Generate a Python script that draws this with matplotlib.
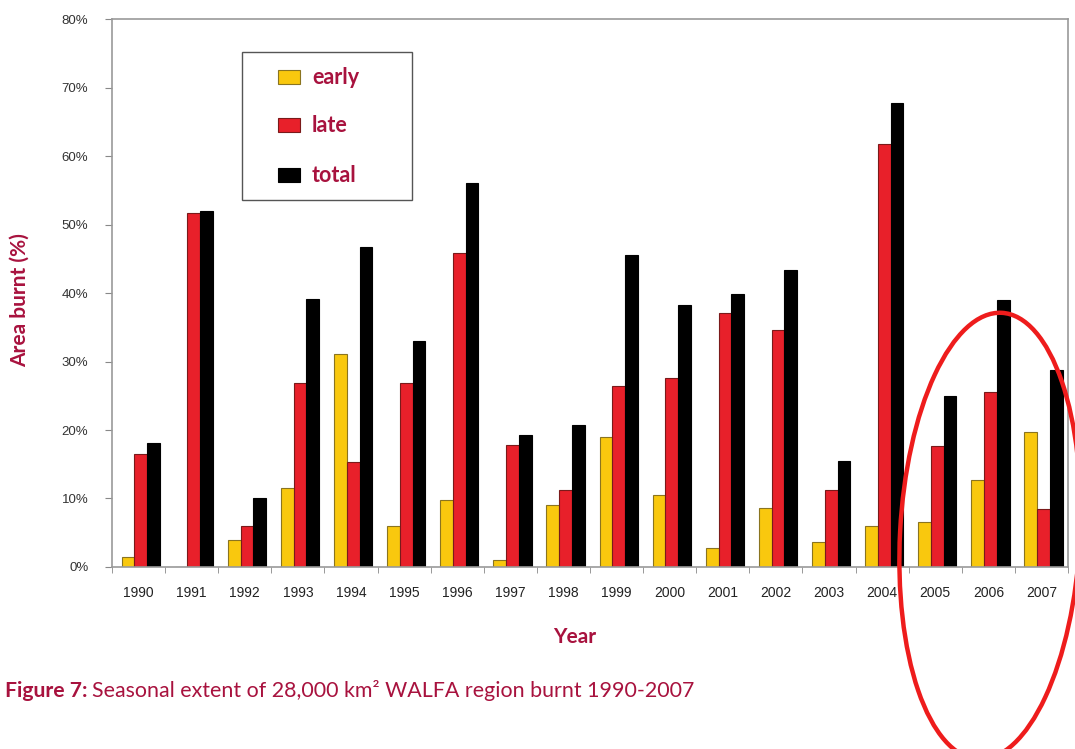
import matplotlib.pyplot as plt
import numpy as np
from matplotlib.patches import Ellipse, Rectangle

years = ['1990', '1991', '1992', '1993', '1994', '1995', '1996', '1997', '1998',
         '1999', '2000', '2001', '2002', '2003', '2004', '2005', '2006', '2007']
early = [1.4, 0.0, 3.9, 11.6, 31.1, 6.0, 9.8, 1.0, 9.1,
         19.0, 10.5, 2.7, 8.6, 3.7, 6.0, 6.6, 12.7, 19.7]
late = [16.5, 51.7, 6.0, 26.9, 15.4, 26.9, 45.8, 17.8, 11.2,
        26.4, 27.6, 37.1, 34.6, 11.2, 61.8, 17.7, 25.6, 8.5]
total = [18.1, 52.0, 10.1, 39.1, 46.7, 33.0, 56.0, 19.3, 20.8,
         45.5, 38.3, 39.9, 43.3, 15.5, 67.8, 25.0, 39.0, 28.8]
series = ['early', 'late', 'total']
colors = ['#f9c80e', '#e8202a', 'black']
edges = ['#8a7420', '#7a1a1a', 'black']

crimson = '#a8123e'
plt.rcParams['font.family'] = ['Lato', 'DejaVu Sans']

fig = plt.figure(figsize=(10.75, 7.49), dpi=100)
ax = fig.add_axes([0.1042, 0.243, 0.8893, 0.7316])

x = np.arange(len(years))
w = 0.24
for i, vals in enumerate([early, late, total]):
    ax.bar(x + (i - 1) * w + 0.04, vals, w, color=colors[i], edgecolor=edges[i],
           linewidth=0.8, label=series[i])

ax.set_xlim(-0.5, len(years) - 0.5)
ax.set_ylim(0, 80)
ax.set_yticks(range(0, 81, 10))
ax.set_yticklabels([f'{v}%' for v in range(0, 81, 10)], family='Liberation Sans',
                   fontsize=9.5, color='#333333')
ax.set_xticks(x)
ax.set_xticklabels(years, family='Liberation Sans', fontsize=10, color='#222222')
ax.tick_params(axis='x', length=0, pad=14)
ax.set_xticks(np.arange(-0.5, len(years), 1), minor=True)
ax.tick_params(axis='x', which='minor', length=4, color='#888888')
ax.tick_params(axis='y', length=5, color='#888888', pad=12)
for s in ax.spines.values():
    s.set_color('#999999')
    s.set_linewidth(1.2)

ax.set_ylabel('Area burnt (%)', fontsize=15, fontweight='bold', color=crimson)
ax.yaxis.set_label_coords(-0.086, 0.487)
ax.set_xlabel('Year', fontsize=15, fontweight='bold', color=crimson)
ax.xaxis.set_label_coords(0.484, -0.11)

# legend box drawn by hand (pixel layout of the original)
def px(xp, yp):
    return xp / 1075, 1 - yp / 749

x0, y0 = px(242, 200)
x1, y1 = px(412, 52)
fig.add_artist(Rectangle((x0, y0), x1 - x0, y1 - y0, transform=fig.transFigure,
                         facecolor='white', edgecolor='#555555', linewidth=1.0))
for name, c, ec, yc in zip(series, colors, edges, [77, 125, 175]):
    hx, hy = px(278, yc + 7)
    fig.add_artist(Rectangle((hx, hy), 22 / 1075, 14 / 749, transform=fig.transFigure,
                             facecolor=c, edgecolor=ec, linewidth=0.8))
    tx, ty = px(312, yc)
    fig.text(tx, ty, name, fontsize=15.5, fontweight='bold', color=crimson, va='center')

fig.text(0.005, 0.07, 'Figure 7:', fontsize=15.2, fontweight='bold', color=crimson)
fig.text(0.0855, 0.07, 'Seasonal extent of 28,000 km² WALFA region burnt 1990-2007',
         fontsize=15.4, color=crimson)

ell = Ellipse((9.90, 2.13), 1.80, 4.47, angle=-3, fill=False, edgecolor='#ee1c1c',
              linewidth=3.2, transform=fig.dpi_scale_trans, clip_on=False)
fig.add_artist(ell)

fig.savefig('out.png', dpi=100)
